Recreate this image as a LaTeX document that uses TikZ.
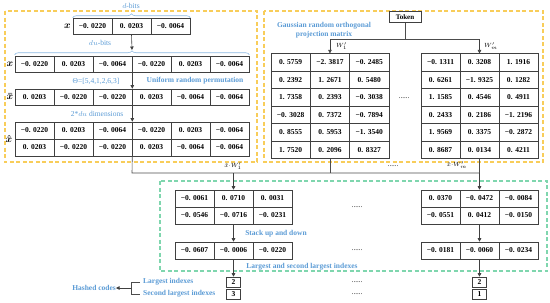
\documentclass[tikz,border=0pt]{standalone}
\usepackage{fontspec}
\setmainfont{Liberation Serif}
\usepackage{amsmath}
\definecolor{HBLUE}{HTML}{5B9BD5}
\definecolor{HORANGE}{HTML}{F8CD5A}
\definecolor{HGREEN}{HTML}{7FD6AE}
\usetikzlibrary{arrows.meta,decorations.pathreplacing}

\begin{document}
\begin{tikzpicture}[
  x=1pt, y=-1pt,
  cell/.style={draw=black!75, line width=0.6pt, rectangle, minimum width=39pt,
    minimum height=17pt, inner sep=0pt, font=\fontsize{7.5}{8}\selectfont\bfseries},
  wcell/.style={cell, minimum width=39.3pt, minimum height=17.5pt},
  ibox/.style={cell, minimum width=14pt, minimum height=10pt},
  lbl/.style={text=HBLUE, inner sep=0pt, font=\fontsize{7.5}{9}\selectfont\bfseries},
  note/.style={text=HBLUE, inner sep=0pt, font=\fontsize{7.5}{9}\selectfont},
  dots/.style={inner sep=0pt, font=\fontsize{7}{8}\selectfont},
  dbox/.style={dash pattern=on 4pt off 2.5pt, line width=1.1pt},
  wire/.style={black!70, line width=0.6pt},
  arr/.style={-{Triangle[length=3.5pt,width=3.5pt]}, black!75, line width=0.6pt},
  brc/.style={decorate, decoration={brace, amplitude=4pt}, HBLUE!70, line width=0.6pt}
]
\useasboundingbox (0,0) rectangle (550,303);

% dashed frames
\draw[dbox, HORANGE] (5,11) rectangle (257,162);
\draw[dbox, HORANGE] (264,11) rectangle (543,162);
\draw[dbox, HGREEN] (160,181) rectangle (547,271);

% input vector and its repetitions
\foreach \v [count=\i] in {−0. 0220, 0. 0203, −0. 0064}
  \node[cell, minimum height=16pt] (d\i) at ({53.5+39*\i},26) {\v};
\foreach \v [count=\i] in {−0. 0220, 0. 0203, −0. 0064, −0. 0220, 0. 0203, −0. 0064}
  \node[cell, minimum height=16pt] (u\i) at ({-4.5+39*\i},64) {\v};
\foreach \v [count=\i] in {0. 0203, −0. 0220, −0. 0220, 0. 0203, −0. 0064, −0. 0064}
  \node[cell, minimum height=16pt] (p\i) at ({-4.5+39*\i},97) {\v};
\foreach \v [count=\i] in {−0. 0220, 0. 0203, −0. 0064, −0. 0220, 0. 0203, −0. 0064}
  \node[cell] (h\i) at ({-4.5+39*\i},130.5) {\v};
\foreach \v [count=\i] in {0. 0203, −0. 0220, −0. 0220, 0. 0203, −0. 0064, −0. 0064}
  \node[cell] (g\i) at ({-4.5+39*\i},147.5) {\v};

\node[inner sep=0pt, anchor=east] (xd) at (71,26) {$\boldsymbol{x}$};
\node[inner sep=0pt] (xu) at (10,64) {$\boldsymbol{x}$};
\node[inner sep=0pt] (xp) at (10,97) {$\boldsymbol{\bar{x}}$};
\node[inner sep=0pt] (xh) at (9,139) {$\boldsymbol{\hat{x}}$};

\draw[brc] (d1.north west) -- (d3.north east);
\draw[brc] ([yshift=1pt]u1.north west) -- ([yshift=1pt]u6.north east);
\node[note] (dbits) at (131,6) {$d$-bits};
\node[note] (ubits) at (100,43) {$du$-bits};
\node[note] (perm) at (96,81) {Θ=[5,4,1,2,6,3]};
\node[lbl] (unif) at (195,81) {Uniform random permutation};
\node[note] (dims) at (97,114) {2*$du$ dimensions};

\coordinate (tipu) at (132,50);
\draw[arr] (d2.south) -- (tipu);
\draw[arr] (u3.south east) -- (p3.north east);
\draw[arr] (p3.south east) -- (h3.north east);

% projection matrices
\node[cell, minimum width=32pt, minimum height=11pt, font=\fontsize{7}{8}\selectfont\bfseries] (tok) at (405,17) {Token};
\node[lbl, align=center] (gauss) at (324,30.5) {Gaussian random orthogonal\\projection matrix};

\foreach \row [count=\r] in {{0. 5759,−2. 3817,−0. 2485},{0. 2392,1. 2671,0. 5480},
    {1. 7358,0. 2393,−0. 3038},{−0. 3028,0. 7372,−0. 7894},
    {0. 8555,0. 5953,−1. 3540},{1. 7520,0. 2096,0. 8327}}
  \foreach \v [count=\c] in \row
    \node[wcell] (wa-\r-\c) at ({251.35+39.3*\c},{45+17.5*\r}) {\v};
\foreach \row [count=\r] in {{−0. 1311,0. 3208,1. 1916},{0. 6261,−1. 9325,0. 1282},
    {1. 1585,0. 4546,0. 4911},{0. 2433,0. 2186,−1. 2196},
    {1. 9569,0. 3375,−0. 2872},{0. 8687,0. 0134,0. 4211}}
  \foreach \v [count=\c] in \row
    \node[wcell, minimum width=39pt] (wb-\r-\c) at ({401.5+39*\c},{45+17.5*\r}) {\v};
\node[dots] (wdots) at (404,98) {......};

\coordinate (wbus) at (405,39);
\draw[wire] (tok.south) -- (wbus);
\draw[wire] (wa-1-2.north |- wbus) -- (wb-1-2.north |- wbus);
\draw[arr] (wa-1-2.north |- wbus) -- (wa-1-2.north);
\draw[arr] (wb-1-2.north |- wbus) -- (wb-1-2.north);
\node[inner sep=0pt, anchor=west, font=\fontsize{6}{7}\selectfont] (wl1) at (336,46) {$W'_1$};
\node[inner sep=0pt, anchor=west, font=\fontsize{6}{7}\selectfont] (wlm) at (484,46) {$W'_m$};

% products
\foreach \v [count=\c] in {−0. 0061, 0. 0710, 0. 0031}
  \node[cell] (la\c) at ({155.5+39*\c},198.5) {\v};
\foreach \v [count=\c] in {−0. 0546, −0. 0716, −0. 0231}
  \node[cell] (lb\c) at ({155.5+39*\c},215.5) {\v};
\foreach \v [count=\c] in {−0. 0607, −0. 0006, −0. 0220}
  \node[cell] (ls\c) at ({155.5+39*\c},250.5) {\v};
\foreach \v [count=\c] in {0. 0370, −0. 0472, −0. 0084}
  \node[cell] (ra\c) at ({401.5+39*\c},198.5) {\v};
\foreach \v [count=\c] in {−0. 0551, 0. 0412, −0. 0150}
  \node[cell] (rb\c) at ({401.5+39*\c},215.5) {\v};
\foreach \v [count=\c] in {−0. 0181, −0. 0060, −0. 0234}
  \node[cell] (rs\c) at ({401.5+39*\c},250.5) {\v};

\coordinate (busl) at (132,173);
\coordinate (busr) at (479.5,173);
\draw[wire] (g3.south east) -- (busl) -- (busr);
\draw[wire] (wa-6-2.south) -- (wa-6-2.south |- busl);
\draw[wire] (wb-6-2.south) -- (busr);
\draw[arr] (la2.north |- busl) -- (la2.north);
\draw[arr] (busr) -- (ra2.north);
\node[inner sep=0pt, font=\fontsize{6}{7}\selectfont] (pl1) at (233,166) {$\hat{x}{\cdot}W'_1$};
\node[inner sep=0pt, font=\fontsize{6}{7}\selectfont] (plm) at (457,165) {$\hat{x}{\cdot}W'_m$};
\node[dots] (pdots) at (393,166) {......};

\draw[arr] (lb2.south) -- (ls2.north);
\draw[arr] (rb2.south) -- (rs2.north);
\node[lbl] (stack) at (276,234) {Stack up and down};
\node[lbl] (lsec) at (302,267) {Largest and second largest indexes};
\node[dots] (gd1) at (357,207) {......};
\node[dots] (gd2) at (357,250) {......};

% hashed codes
\node[ibox] (li1) at (233.5,282) {2};
\node[ibox] (li2) at (233.5,294) {3};
\node[ibox] (ri1) at (479.5,282) {2};
\node[ibox] (ri2) at (479.5,294) {1};
\draw[arr] (ls2.south) -- (li1.north);
\draw[arr] (rs2.south) -- (ri1.north);
\node[dots] (bd1) at (357,282) {......};
\node[dots] (bd2) at (357,294) {......};

\node[lbl, anchor=west] (lix) at (143,282) {Largest indexes};
\node[lbl, anchor=west] (six) at (143,294) {Second largest indexes};
\node[lbl, anchor=east] (hsh) at (116,288) {Hashed codes};
\draw[wire] ([xshift=-3pt]lix.west) -- ++(-9,0) |- ([xshift=-3pt]six.west);
\coordinate (hj) at (131,288);
\draw[arr] (hj) -- (hsh.east);
\end{tikzpicture}
\end{document}
